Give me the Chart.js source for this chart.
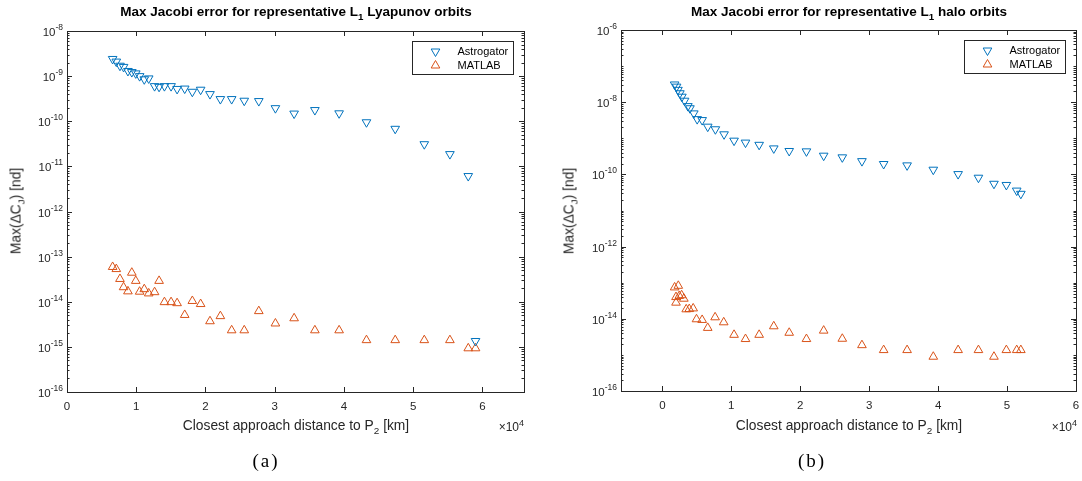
<!DOCTYPE html>
<html>
<head>
<meta charset="utf-8">
<script src="https://cdn.jsdelivr.net/npm/chart.js@4.4.0/dist/chart.umd.min.js"></script>
<style>
    body { margin: 0; background: #fff; }
    #wrap {
        position: relative;
        width: 1082px;
        height: 481px;
        overflow: hidden;
        font-family: "Liberation Sans", Arial, sans-serif;
        color: #262626;
    }
    #wrap canvas { position: absolute; top: 0; }
    .ttl {
        position: absolute;
        top: 5px;
        font-size: 13.5px;
        font-weight: bold;
        line-height: 14px;
        white-space: nowrap;
        transform: translateX(-50%);
        color: #000;
    }
    .xlab {
        position: absolute;
        top: 418px;
        font-size: 13.8px;
        line-height: 15px;
        white-space: nowrap;
        transform: translateX(-50%);
    }
    .ylab {
        position: absolute;
        font-size: 13.8px;
        line-height: 15px;
        white-space: nowrap;
        transform: translate(-50%, -50%) rotate(-90deg);
    }
    .mult {
        position: absolute;
        top: 421px;
        font-size: 12px;
        line-height: 13px;
        white-space: nowrap;
        transform: translateX(-100%);
    }
    .mult sup { font-size: 9px; vertical-align: 5px; line-height: 0; }
    sub { font-size: 0.72em; vertical-align: -4px; line-height: 0; }
    .cap {
        position: absolute;
        top: 450px;
        font-family: "Liberation Serif", "Times New Roman", serif;
        font-size: 19px;
        letter-spacing: 2px;
        color: #000;
        transform: translateX(-50%);
    }
</style>
</head>
<body>
<div id="wrap">
    <canvas id="lyap" width="541" height="481" style="left:0"></canvas>
    <canvas id="halo" width="541" height="481" style="left:541px"></canvas>

    <div class="ttl" style="left:296px">Max Jacobi error for representative L<sub>1</sub> Lyapunov orbits</div>
    <div class="ttl" style="left:849px">Max Jacobi error for representative L<sub>1</sub> halo orbits</div>

    <div class="xlab" style="left:296px">Closest approach distance to P<sub>2</sub> [km]</div>
    <div class="xlab" style="left:849px">Closest approach distance to P<sub>2</sub> [km]</div>
    <div class="mult" style="left:524px">&times;10<sup>4</sup></div>
    <div class="mult" style="left:1077px">&times;10<sup>4</sup></div>

    <div class="ylab" style="left:16px;top:211px">Max(&Delta;C<sub>J</sub>) [nd]</div>
    <div class="ylab" style="left:569px;top:211px">Max(&Delta;C<sub>J</sub>) [nd]</div>

    <div class="cap" style="left:266px">(a)</div>
    <div class="cap" style="left:812px">(b)</div>
</div>

<script>
// (a) L1 Lyapunov orbits, distance in km
const lyapDist = [6590, 7120, 7650, 8170, 8800, 9360, 9930, 10490, 11160, 11800,
    12650, 13300, 14070, 15030, 15900, 17000, 18100, 19300, 20650, 22150,
    23780, 25600, 27700, 30100, 32800, 35800, 39300, 43250, 47400, 51600,
    55300, 57950, 59000];
const lyapAstrogator = [2.4e-9, 2.1e-9, 1.7e-9, 1.6e-9, 1.3e-9, 1.23e-9, 1.15e-9, 1.0e-9, 8.5e-10, 8.9e-10,
    6.0e-10, 5.8e-10, 6.0e-10, 6.0e-10, 5.2e-10, 5.3e-10, 4.5e-10, 5.0e-10, 4.0e-10, 3.1e-10,
    3.1e-10, 2.85e-10, 2.8e-10, 1.95e-10, 1.48e-10, 1.77e-10, 1.5e-10, 9.5e-11, 6.8e-11, 3.1e-11,
    1.87e-11, 6.1e-12, 1.35e-15];
const lyapMatlab = [5.9e-14, 5.3e-14, 3.2e-14, 2.1e-14, 1.7e-14, 4.4e-14, 2.9e-14, 1.67e-14, 1.9e-14, 1.53e-14,
    1.63e-14, 2.9e-14, 9.8e-15, 9.8e-15, 9.3e-15, 5.1e-15, 1.04e-14, 8.9e-15, 3.7e-15, 4.8e-15,
    2.33e-15, 2.33e-15, 6.2e-15, 3.3e-15, 4.3e-15, 2.33e-15, 2.33e-15, 1.41e-15, 1.41e-15, 1.41e-15,
    1.41e-15, 9.3e-16, 9.3e-16];

// (b) L1 halo orbits
const haloDistAstro = [1780, 2060, 2260, 2540, 2830, 3220, 3700, 4000, 4560, 5050,
    5770, 6580, 7690, 8950, 10400, 12060, 14040, 16160, 18400, 20900,
    23400, 26100, 28950, 32100, 35500, 39300, 42900, 45850, 48100, 49900,
    51400, 52000];
const haloAstrogator = [3.1e-8, 2.7e-8, 2.2e-8, 1.77e-8, 1.42e-8, 1.1e-8, 7.8e-9, 6.8e-9, 4.9e-9, 3.4e-9,
    3.2e-9, 2.1e-9, 1.78e-9, 1.29e-9, 8.6e-10, 7.6e-10, 6.6e-10, 5.25e-10, 4.45e-10, 4.35e-10,
    3.3e-10, 2.97e-10, 2.33e-10, 1.94e-10, 1.78e-10, 1.35e-10, 1.02e-10, 8.1e-11, 5.5e-11, 5.1e-11,
    3.56e-11, 2.9e-11];
const haloDistMatlab = [1780, 1980, 1980, 2310, 2450, 2790, 3120, 3460, 3900, 4470,
    4950, 5770, 6580, 7650, 8900, 10400, 12060, 14040, 16160, 18400,
    20900, 23400, 26100, 28950, 32100, 35500, 39300, 42900, 45850, 48100,
    49900, 51400, 52000];
const haloMatlab = [7.4e-14, 4.0e-14, 2.8e-14, 8.2e-14, 4.3e-14, 4.5e-14, 3.6e-14, 1.83e-14, 1.86e-14, 1.94e-14,
    9.7e-15, 9.3e-15, 5.6e-15, 1.1e-14, 8.0e-15, 3.6e-15, 2.75e-15, 3.6e-15, 6.2e-15, 4.1e-15,
    2.75e-15, 4.7e-15, 2.8e-15, 1.86e-15, 1.36e-15, 1.36e-15, 8.9e-16, 1.36e-15, 1.36e-15, 8.9e-16,
    1.36e-15, 1.36e-15, 1.36e-15];

const seriesNames = ["Astrogator", "MATLAB"];
const xTickValues = [0, 10000, 20000, 30000, 40000, 50000, 60000];

const BLUE = "#0072BD";
const ORANGE = "#D95319";
const AXIS = "#262626";
const FONT = "'Liberation Sans', Arial, sans-serif";

// matlab style box with inward ticks on all four sides, 10^n labels and legend
const matlabBox = {
    id: "matlabBox",
    afterDatasetsDraw(chart, args, opts) {
        const { ctx, chartArea: a, scales } = chart;
        const x = scales.x, y = scales.y;
        const px = (v) => Math.round(v) + 0.5;
        ctx.save();
        ctx.strokeStyle = AXIS;
        ctx.lineWidth = 1;
        ctx.beginPath();
        xTickValues.forEach((v) => {
            const p = px(x.getPixelForValue(v));
            ctx.moveTo(p, a.bottom); ctx.lineTo(p, a.bottom - 5);
            ctx.moveTo(p, a.top); ctx.lineTo(p, a.top + 5);
        });
        const lo = Math.round(Math.log10(y.min)), hi = Math.round(Math.log10(y.max));
        for (let e = lo; e <= hi; e++) {
            for (let m = 1; m <= 9; m++) {
                const v = Number(m + "e" + e);
                if (v > y.max * 1.0001) continue;
                const major = m === 1 && (e - lo) % opts.every === 0;
                const len = major ? 5 : 2.5;
                const p = px(y.getPixelForValue(v));
                ctx.moveTo(a.left, p); ctx.lineTo(a.left + len, p);
                ctx.moveTo(a.right, p); ctx.lineTo(a.right - len, p);
            }
        }
        ctx.stroke();
        ctx.strokeRect(px(a.left), px(a.top), Math.round(a.right - a.left), Math.round(a.bottom - a.top));

        // y tick labels as 10 with a raised exponent
        ctx.fillStyle = AXIS;
        ctx.textAlign = "right";
        ctx.textBaseline = "alphabetic";
        y.ticks.forEach((t) => {
            const p = y.getPixelForValue(t.value);
            const exp = String(Math.round(Math.log10(t.value)));
            ctx.font = "8.5px " + FONT;
            const ew = ctx.measureText(exp).width;
            ctx.fillText(exp, a.left - 4, p - 1);
            ctx.font = "11.5px " + FONT;
            ctx.fillText("10", a.left - 4 - ew, p + 5);
        });

        // legend box in the upper right corner
        const bx = Math.round(a.right - 112) + 0.5, by = Math.round(a.top + 10) + 0.5;
        ctx.strokeRect(bx, by, 101, 33);
        ctx.font = "11px " + FONT;
        ctx.textAlign = "left";
        ctx.textBaseline = "middle";
        ctx.fillStyle = "#000";
        chart.data.datasets.forEach((ds, i) => {
            const cy = by + 10 + i * 14;
            ctx.save();
            ctx.strokeStyle = ds.borderColor;
            ctx.fillStyle = "rgba(0,0,0,0)";
            ctx.lineWidth = 1;
            Chart.helpers.drawPoint(ctx, { pointStyle: "triangle", rotation: ds.rotation, radius: 5, borderWidth: 1 }, bx + 23, cy);
            ctx.restore();
            ctx.fillText(ds.label, bx + 45, cy);
        });
        ctx.restore();
    },
};

function makeChart(id, astroDist, astro, matlabDist, matlab, cfg) {
    const toPts = (xs, ys) => xs.map((d, i) => ({ x: d, y: ys[i] }));
    return new Chart(document.getElementById(id), {
        type: "scatter",
        data: {
            datasets: [
                {
                    label: seriesNames[0],
                    data: toPts(astroDist, astro),
                    borderColor: BLUE,
                    backgroundColor: "rgba(0,0,0,0)",
                    pointStyle: "triangle",
                    rotation: 180,
                    pointRadius: 5,
                    pointBorderWidth: 1,
                },
                {
                    label: seriesNames[1],
                    data: toPts(matlabDist, matlab),
                    borderColor: ORANGE,
                    backgroundColor: "rgba(0,0,0,0)",
                    pointStyle: "triangle",
                    rotation: 0,
                    pointRadius: 5,
                    pointBorderWidth: 1,
                },
            ],
        },
        options: {
            responsive: false,
            animation: false,
            devicePixelRatio: 1,
            layout: { padding: cfg.padding },
            plugins: {
                legend: { display: false },
                tooltip: { enabled: false },
                matlabBox: { every: cfg.every },
            },
            scales: {
                x: {
                    type: "linear",
                    min: cfg.xmin,
                    max: cfg.xmax,
                    grid: { display: false, drawTicks: false },
                    border: { display: false },
                    afterBuildTicks: (s) => { s.ticks = xTickValues.map((v) => ({ value: v })); },
                    afterFit: (s) => {
                        s.height = 20;
                        s.paddingLeft = 0;
                        s.paddingRight = 0;
                    },
                    ticks: {
                        color: AXIS,
                        padding: 8,
                        maxRotation: 0,
                        font: { family: FONT, size: 11.5 },
                        callback: (v) => String(v / 10000),
                    },
                },
                y: {
                    type: "logarithmic",
                    min: 1e-16,
                    max: cfg.ymax,
                    grid: { display: false, drawTicks: false },
                    border: { display: false },
                    afterBuildTicks: (s) => {
                        const t = [];
                        for (let e = -16; Number("1e" + e) <= cfg.ymax * 1.0001; e += cfg.every) {
                            t.push({ value: Number("1e" + e) });
                        }
                        s.ticks = t;
                    },
                    afterFit: (s) => {
                        s.width = cfg.yWidth;
                        s.paddingTop = 0;
                        s.paddingBottom = 0;
                    },
                    ticks: { display: false },
                },
            },
        },
        plugins: [matlabBox],
    });
}

makeChart("lyap", lyapDist, lyapAstrogator, lyapDist, lyapMatlab, {
    xmin: 0, xmax: 66000, ymax: 1e-8, every: 1, yWidth: 67,
    padding: { left: 0, top: 31, right: 17, bottom: 69 },
});
makeChart("halo", haloDistAstro, haloAstrogator, haloDistMatlab, haloMatlab, {
    xmin: -6000, xmax: 60000, ymax: 1e-6, every: 2, yWidth: 80,
    padding: { left: 0, top: 30, right: 5, bottom: 70 },
});
</script>
</body>
</html>
